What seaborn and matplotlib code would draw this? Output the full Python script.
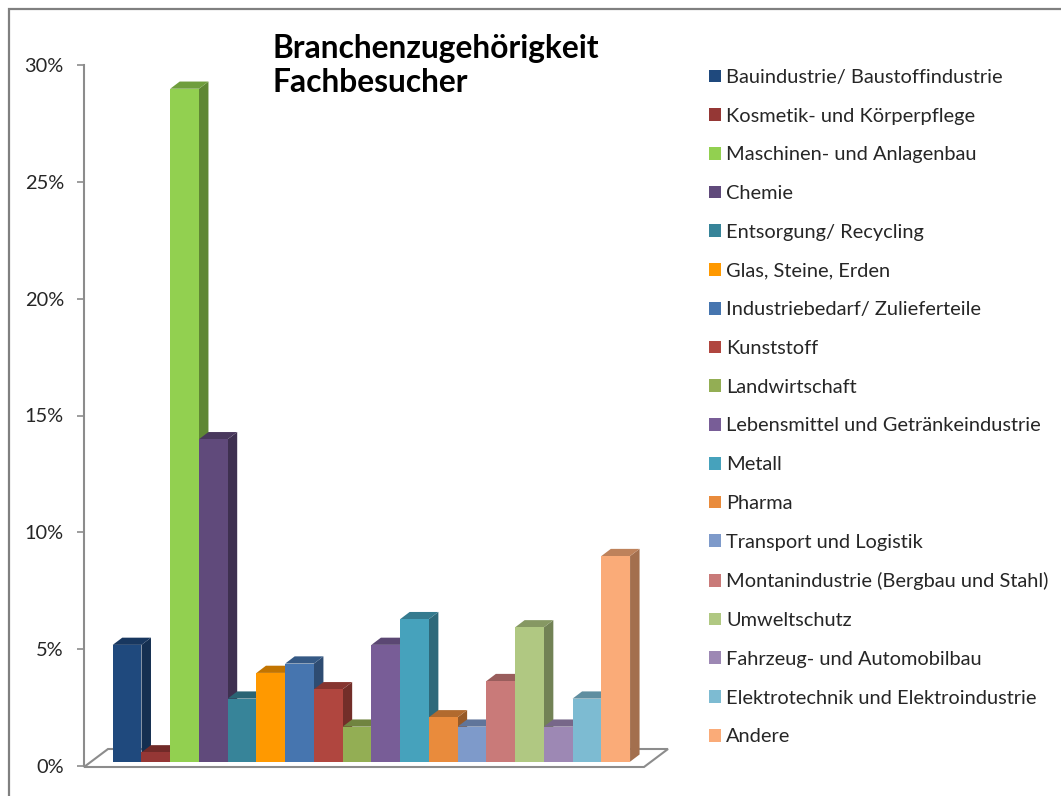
import matplotlib
matplotlib.use('Agg')
import matplotlib.pyplot as plt
from matplotlib.colors import to_rgb
from matplotlib.patches import Polygon, Rectangle
import seaborn as sns

## DATA
branchen = ['Bauindustrie/ Baustoffindustrie', 'Kosmetik- und Körperpflege', 'Maschinen- und Anlagenbau',
            'Chemie', 'Entsorgung/ Recycling', 'Glas, Steine, Erden', 'Industriebedarf/ Zulieferteile',
            'Kunststoff', 'Landwirtschaft', 'Lebensmittel und Getränkeindustrie', 'Metall', 'Pharma',
            'Transport und Logistik', 'Montanindustrie (Bergbau und Stahl)', 'Umweltschutz',
            'Fahrzeug- und Automobilbau', 'Elektrotechnik und Elektroindustrie', 'Andere']
anteile = [5.0, 0.4, 28.8, 13.8, 2.7, 3.8, 4.2, 3.1, 1.5, 5.0, 6.1, 1.9, 1.5, 3.45, 5.75, 1.5, 2.7, 8.8]
farben = ['#1F497D', '#953735', '#92D050', '#604A7B', '#378499', '#FF9900', '#4675AF', '#B0463F', '#93AE54',
          '#785D97', '#46A2BC', '#E98B3C', '#7E9ACA', '#C97A79', '#B0C882', '#9D88B4', '#7DBBD2', '#FAAB78']
y_ticks = [0, 5, 10, 15, 20, 25, 30]
titel = 'Branchenzugehörigkeit\nFachbesucher'

W, H = 1061, 796
GRAU = '#8C8C8C'
TEXT = '#262626'

sns.set_style('white')
plt.rcParams['font.family'] = ['Lato', 'DejaVu Sans']

fig = plt.figure(figsize=(W / 100, H / 100), dpi=100)
ax = fig.add_axes([84 / W, (H - 766) / H, (668 - 84) / W, (766 - 65) / H])

#### px per data unit
px_x = 28.74
px_y = 701 / 30
basis = 4.3 / px_y
dx = 9.5 / px_x
dy = 7.2 / px_y

sns.barplot(x=branchen, y=anteile, hue=branchen, order=branchen, hue_order=branchen, palette=farben,
            width=1, saturation=1, bottom=basis, dodge=False, legend=False, linewidth=0, errorbar=None,
            ax=ax, zorder=3)

x0 = -1.5
ax.set_xlim(x0, x0 + (668 - 84) / px_x)
ax.set_ylim(0, 30)
ax.set_yticks(y_ticks)
ax.set_yticklabels([f'{t}%' for t in y_ticks], fontsize=14.4, color=TEXT)
ax.tick_params(axis='y', left=True, length=5, width=1.2, color=GRAU, pad=9.5)
ax.set_xticks([])
ax.set_xlabel('')
ax.set_ylabel('')
sns.despine(ax=ax, bottom=True)
ax.spines['left'].set_color(GRAU)
ax.spines['left'].set_linewidth(1.5)
ax.patch.set_alpha(0)

#### 3D look: side and top faces next to each front
balken = sorted(ax.patches, key=lambda p: p.get_x())
for z, bar in enumerate(balken):
    l, r = bar.get_x(), bar.get_x() + bar.get_width()
    b, t = bar.get_y(), bar.get_y() + bar.get_height()
    c = to_rgb(bar.get_facecolor())
    side = tuple(v * 0.65 for v in c)
    top = tuple(v * 0.76 for v in c)
    ax.add_patch(Polygon([(r, b), (r + dx, b + dy), (r + dx, t + dy), (r, t)], fc=side, lw=0, zorder=2 + z / 100))
    ax.add_patch(Polygon([(l, t), (r, t), (r + dx, t + dy), (l + dx, t + dy)], fc=top, lw=0, zorder=2 + z / 100))

#### floor
px = lambda x: x0 + (x - 84) / px_x
py = lambda y: (766 - y) / px_y
ax.add_patch(Polygon([(px(84), py(767)), (px(644), py(767)), (px(668), py(749)), (px(108), py(749))],
                     fc='white', ec=GRAU, lw=1.5, zorder=1, clip_on=False))

#### title
fig.text(272.5 / W, 1 - 65.5 / H, titel, fontsize=22.9, fontweight='bold', color='black', ha='left', va='center',
         linespacing=1.22)

#### legend
handles = balken
leg = fig.legend(handles, branchen, loc='upper left', bbox_to_anchor=(709 / W, 1 - 69 / H), frameon=False,
                 fontsize=14.4, borderpad=0, borderaxespad=0, handlelength=0.6, handleheight=0.6,
                 handletextpad=0.25, labelspacing=1.086, labelcolor=TEXT)

#### outer frame
fig.add_artist(Rectangle((9 / W, -0.05), 1.1, 1.05 - 9 / H, transform=fig.transFigure, fc='none', ec='#808080',
                         lw=1.6, clip_on=False))

fig.savefig('out.png', dpi=100)
